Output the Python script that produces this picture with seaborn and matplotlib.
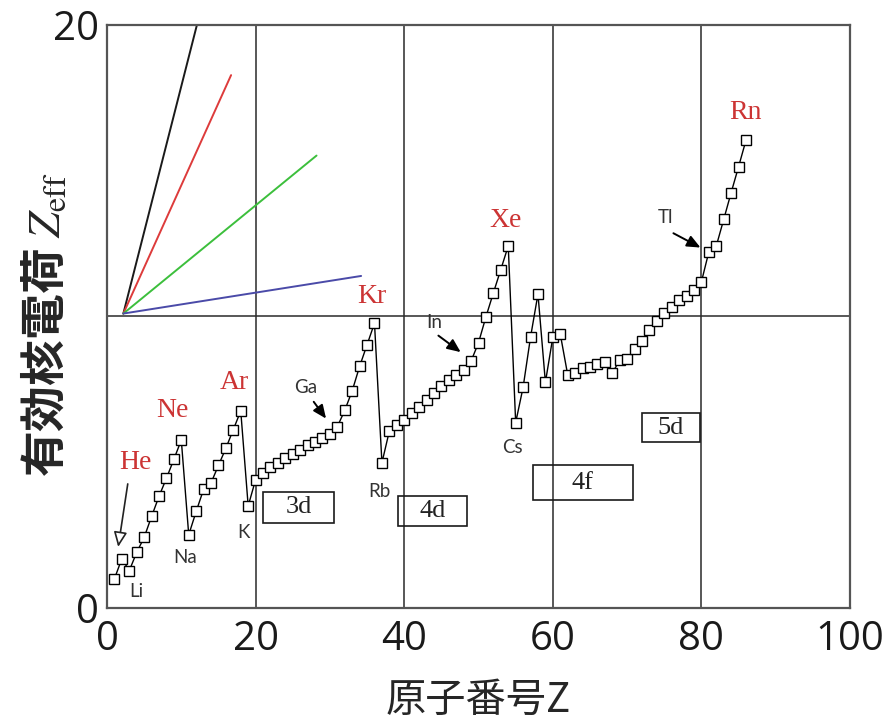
import matplotlib.pyplot as plt
import seaborn as sns
import numpy as np
import pandas as pd
from matplotlib.patches import Rectangle

# effective nuclear charge of the outermost electron, Z = 1..86
atomic_number = list(range(1, 87))
zeff = [1.00, 1.69,
        1.28, 1.91, 2.42, 3.14, 3.83, 4.45, 5.10, 5.76,
        2.51, 3.31, 4.07, 4.29, 4.89, 5.48, 6.12, 6.76,
        3.50, 4.40, 4.63, 4.82, 4.98, 5.13, 5.28, 5.43, 5.58, 5.71, 5.84, 5.97,
        6.22, 6.78, 7.45, 8.29, 9.03, 9.77,
        4.98, 6.07, 6.26, 6.45, 6.68, 6.91, 7.14, 7.39, 7.62, 7.82, 7.99, 8.16,
        8.47, 9.10, 9.99, 10.81, 11.61, 12.42,
        6.36, 7.57, 9.29, 10.77, 7.74, 9.29, 9.40, 8.00, 8.06, 8.22, 8.28, 8.36,
        8.43, 8.05, 8.51, 8.53, 8.89, 9.16, 9.52, 9.85, 10.12, 10.31, 10.55,
        10.71, 10.91, 11.19, 12.22, 12.42, 13.33, 14.25, 15.14, 16.05]

# noble gases (red labels)
noble_names = ['He', 'Ne', 'Ar', 'Kr', 'Xe', 'Rn']
noble_x = [3.8, 8.75, 17.2, 35.7, 53.6, 85.9]
noble_y = [5.0, 6.79, 7.72, 10.7, 13.3, 17.0]

# small element labels
small_names = ['Li', 'Na', 'K', 'Rb', 'Cs']
small_x = [3.9, 10.5, 18.4, 36.7, 54.5]
small_y = [0.58, 1.72, 2.6, 3.98, 5.52]

# labels with arrows: text position, arrow tail, arrow tip
arrow_names = ['Ga', 'In', 'Tl']
arrow_text = [(26.8, 7.58), (44.0, 9.81), (75.2, 13.38)]
arrow_tail = [(27.6, 7.15), (44.3, 9.40), (75.9, 12.90)]
arrow_tip = [(29.7, 6.42), (47.9, 8.72), (80.2, 12.32)]

# orbital boxes: name, x0, x1, y0, y1
box_names = ['3d', '4d', '4f', '5d']
box_x0 = [21.0, 39.2, 57.3, 72.0]
box_x1 = [30.6, 48.5, 70.8, 79.8]
box_y0 = [2.92, 2.81, 3.70, 5.69]
box_y1 = [3.98, 3.84, 4.90, 6.69]

# fan of coloured lines from a common origin
fan_origin = (2.2, 10.1)
fan_end_x = [12.15, 16.7, 28.2, 34.2]
fan_end_y = [20.05, 18.28, 15.52, 11.39]
fan_colors = ['#1a1a1a', '#dd3b3b', '#3cbf3c', '#4a4aa8']

sns.set_style('white')
plt.rcParams['font.family'] = ['Open Sans', 'Noto Sans CJK JP', 'DejaVu Sans']
plt.rcParams['mathtext.fontset'] = 'stix'

fig = plt.figure(figsize=(8.85, 7.2), dpi=100)
ax = fig.add_axes([0.1209, 0.1556, 0.8396, 0.8097])

# grid lines
for gx in [20, 40, 60, 80]:
    ax.axvline(gx, color='#2a2a2a', lw=1.1, zorder=1)
ax.axhline(10, color='#2a2a2a', lw=1.1, zorder=1)

for ex, ey, c in zip(fan_end_x, fan_end_y, fan_colors):
    sns.lineplot(x=[fan_origin[0], ex], y=[fan_origin[1], ey], color=c, lw=1.4, ax=ax, zorder=2)

df = pd.DataFrame({'Z': atomic_number, 'Zeff': zeff})
sns.lineplot(data=df, x='Z', y='Zeff', ax=ax, color='black', lw=1.0,
             marker='s', markersize=6.5, markerfacecolor='white',
             markeredgecolor='black', markeredgewidth=1.0, zorder=3)

for name, x, y in zip(noble_names, noble_x, noble_y):
    ax.text(x, y, name, color='#cc3434', fontsize=20, family='Liberation Serif',
            ha='center', va='center')

for name, x, y in zip(small_names, small_x, small_y):
    ax.text(x, y, name, color='#333333', fontsize=13.5, family='Lato',
            ha='center', va='center')

for name, t, s, e in zip(arrow_names, arrow_text, arrow_tail, arrow_tip):
    ax.text(t[0], t[1], name, color='#333333', fontsize=13.5, family='Lato',
            ha='center', va='center')
    ax.annotate('', xy=e, xytext=s,
                arrowprops=dict(arrowstyle='-|>,head_length=0.8,head_width=0.35',
                                fc='black', ec='black', lw=1.4))

# He arrow with open head
ax.annotate('', xy=(1.45, 2.0), xytext=(2.85, 4.35),
            arrowprops=dict(arrowstyle='-|>,head_length=0.9,head_width=0.4',
                            fc='white', ec='#222222', lw=1.2))

for name, x0, x1, y0, y1 in zip(box_names, box_x0, box_x1, box_y0, box_y1):
    ax.add_patch(Rectangle((x0, y0), x1 - x0, y1 - y0, fill=False,
                           ec='#1a1a1a', lw=1.2, zorder=4))
    ax.text((x0 + x1) / 2, (y0 + y1) / 2, name, fontsize=19,
            family='Liberation Serif', color='#222222', ha='center', va='center')

ax.set_xlim(0, 100)
ax.set_ylim(0, 20)
ax.set_xticks([0, 20, 40, 60, 80, 100])
ax.set_yticks([0, 20])
ax.tick_params(axis='both', length=0, labelsize=29, colors='#1a1a1a')
ax.tick_params(axis='x', pad=8)
ax.tick_params(axis='y', pad=6)
for s in ax.spines.values():
    s.set_color('#555555')
    s.set_linewidth(1.6)

ax.set_xlabel('原子番号Z', fontsize=29, fontweight='normal',
              family=['Noto Sans CJK JP', 'DejaVu Sans'], va='center')
ax.xaxis.set_label_coords(0.5, -0.158)
ax.set_ylabel('有効核電荷 $Z_{\\mathrm{eff}}$', fontsize=33, fontweight='bold',
              family=['Noto Sans CJK JP', 'DejaVu Sans'], va='center', ha='center')
ax.yaxis.set_label_coords(-0.083, 0.485)

fig.savefig('out.png', dpi=100)
